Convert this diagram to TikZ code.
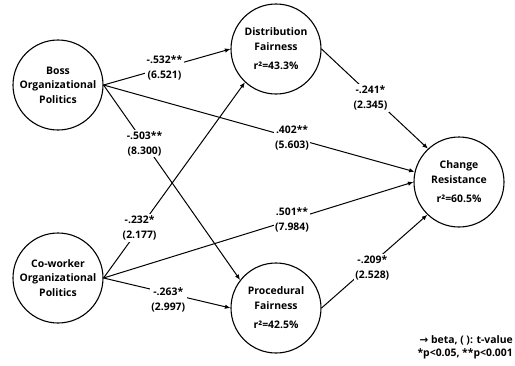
\documentclass[tikz,border=0pt]{standalone}
\usepackage{fontspec}
\setmainfont{Open Sans}
\newfontfamily\arrowfont{DejaVu Sans}
\usetikzlibrary{arrows.meta}
\begin{document}
\begin{tikzpicture}[x=1pt,y=-1pt,
  var/.style={circle,draw,line width=1.1pt,minimum size=90pt,inner sep=0pt,
    align=center,font=\bfseries\fontsize{10.4}{14.5}\selectfont},
  lab/.style={fill=white,inner sep=1.5pt,align=center,
    font=\bfseries\fontsize{10.4}{15}\selectfont},
  path/.style={line width=1pt,-{Latex[length=5.5pt,width=4.5pt]}}]
\useasboundingbox (0,0) rectangle (515,365);
\node[var] (boss) at (58,85) {Boss\\Organizational\\Politics};
\node[var] (cow) at (58,278) {Co-worker\\Organizational\\Politics};
\node[var] (dist) at (276,49) {Distribution\\Fairness\\[5pt]r²=43.3\%};
\node[var] (proc) at (276,308) {Procedural\\Fairness\\[5pt]r²=42.5\%};
\node[var] (chg) at (459,182) {Change\\Resistance\\[5pt]r²=60.5\%};

\draw[path] (boss.east) -- node[lab,pos=0.48] {-.532**\\(6.521)} (dist.west);
\draw[path] (boss.east) -- node[lab,pos=0.30] {-.503**\\(8.300)} (proc.142);
\draw[path] (boss.east) -- node[lab,pos=0.606] {.402**\\(5.603)} (chg.167);
\draw[path] (cow.east) -- node[lab,pos=0.255] {-.232*\\(2.177)} (dist.227);
\draw[path] (cow.east) -- node[lab,pos=0.608] {.501**\\(7.984)} (chg.180);
\draw[path] (cow.east) -- node[lab,pos=0.51,yshift=-7pt] {-.263*\\(2.997)} (proc.west);
\draw[path] (dist.east) -- node[lab,pos=0.46,yshift=-3pt] {-.241*\\(2.345)} (chg.133);
\draw[path] (proc.east) -- node[lab,pos=0.48,yshift=-5pt] {-.209*\\(2.528)} (chg.226);

\node[anchor=east,align=right,inner sep=0pt,font=\bfseries\fontsize{10.4}{13}\selectfont] (leg) at (513,347)
  {{\arrowfont →} beta, ( ): t-value\\*p<0.05, **p<0.001};
\end{tikzpicture}
\end{document}
